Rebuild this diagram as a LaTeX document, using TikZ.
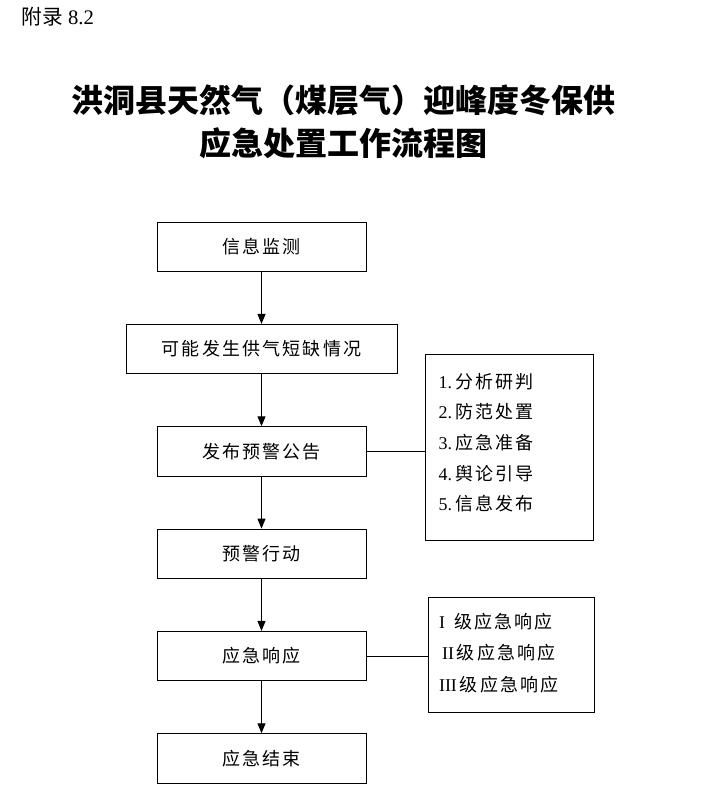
\documentclass[tikz,border=0pt]{standalone}
\usepackage{fontspec}
\setmainfont{Liberation Serif}
\newfontfamily\cjk[LetterSpace=12]{Noto Sans CJK SC}
\newfontfamily\cjkhead{Noto Sans CJK SC}
\usetikzlibrary{positioning,arrows.meta}
\newcommand{\entry}[2]{#1\,{\cjk #2}}

\begin{document}
\begin{tikzpicture}[x=0.75pt, y=-0.75pt, node distance={39pt and 44pt}, line width=0.75pt,
    stepbox/.style = {draw, minimum width=156.75pt, minimum height=37pt, inner sep=0pt, font=\cjk\fontsize{13.5}{15}\selectfont},
    sidebox/.style = {draw, align=left, inner xsep=9.75pt, text width=106.5pt, font=\fontsize{13.5}{23}\selectfont},
    flow/.style = {-{Triangle[length=7.5pt,width=6pt]}}]
    \useasboundingbox (0,0) rectangle (723,812);
    \node[anchor=west, inner sep=0pt, font=\fontsize{15.5}{18}\selectfont] (appx) at (21,17) {{\cjkhead 附录} 8.2};
    \node[align=center, font=\cjkhead\bfseries\fontsize{24}{32}\selectfont] (title) at (343,121.5) {洪洞县天然气（煤层气）迎峰度冬保供\\应急处置工作流程图};
    \node[stepbox] (monitor) at (261.5,246.75) {信息监测};
    \node[stepbox, minimum width=203.25pt] (shortage) [below=of monitor] {可能发生供气短缺情况};
    \node[stepbox] (warning) [below=of shortage] {发布预警公告};
    \node[stepbox] (action) [below=of warning] {预警行动};
    \node[stepbox] (response) [below=of action] {应急响应};
    \node[stepbox] (finish) [below=of response] {应急结束};
    \node[sidebox, minimum height=139.5pt, yshift=2.8pt] (measures) [right=of warning]
        {\entry{1.}{分析研判}\\\entry{2.}{防范处置}\\\entry{3.}{应急准备}\\\entry{4.}{舆论引导}\\\entry{5.}{信息发布}\rule[-8.5pt]{0pt}{0pt}};
    \node[sidebox, minimum height=86.25pt, inner xsep=8.25pt, text width=108pt, yshift=1pt,
        font=\fontsize{13.5}{23.6}\selectfont] (levels) [right=45.75pt of response]
        {\entry{I\ }{级应急响应}\\\entry{\,II}{级应急响应}\\\entry{III}{级应急响应}\rule[-4pt]{0pt}{0pt}};
    \draw[flow] (monitor) -- (shortage);
    \draw[flow] (shortage) -- (warning);
    \draw[flow] (warning) -- (action);
    \draw[flow] (action) -- (response);
    \draw[flow] (response) -- (finish);
    \draw (warning.east) -- (warning.east -| measures.west);
    \draw (response.east) -- (response.east -| levels.west);
\end{tikzpicture}
\end{document}
